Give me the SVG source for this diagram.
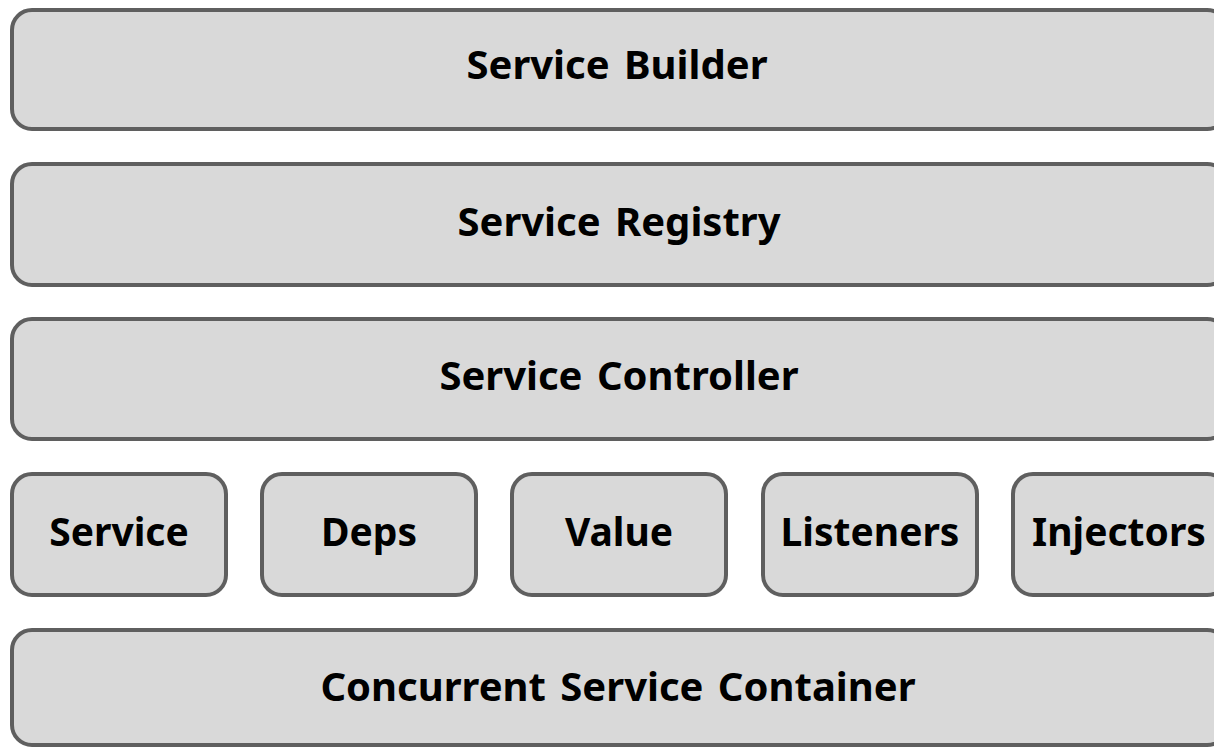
<svg xmlns="http://www.w3.org/2000/svg" width="1214" height="749" viewBox="0 0 1214 749">
<style>
.box{fill:#d9d9d9;stroke:#5f5f5f;stroke-width:4}
.lbl{font-family:"Noto Sans","Open Sans","DejaVu Sans",sans-serif;font-weight:bold;font-size:40px;fill:#000;text-anchor:middle;word-spacing:4px}
.sm{font-size:39px}
</style>
<rect width="1214" height="749" fill="#fff"/>
<g id="service-builder"><rect class="box" x="12" y="10" width="1215" height="119" rx="20"/><text class="lbl" x="617" y="79">Service Builder</text></g>
<g id="service-registry"><rect class="box" x="12" y="164" width="1215" height="121" rx="20"/><text class="lbl" x="619" y="236">Service Registry</text></g>
<g id="service-controller"><rect class="box" x="12" y="319" width="1215" height="120" rx="20"/><text class="lbl" x="619" y="390">Service Controller</text></g>
<g id="service"><rect class="box" x="12" y="474" width="214" height="121" rx="20"/><text class="lbl sm" x="119" y="546">Service</text></g>
<g id="deps"><rect class="box" x="262" y="474" width="214" height="121" rx="20"/><text class="lbl sm" x="369" y="546">Deps</text></g>
<g id="value"><rect class="box" x="512" y="474" width="214" height="121" rx="20"/><text class="lbl sm" x="619" y="546">Value</text></g>
<g id="listeners"><rect class="box" x="763" y="474" width="214" height="121" rx="20"/><text class="lbl sm" x="870" y="546">Listeners</text></g>
<g id="injectors"><rect class="box" x="1013" y="474" width="214" height="121" rx="20"/><text class="lbl sm" x="1119" y="546">Injectors</text></g>
<g id="concurrent-service-container"><rect class="box" x="12" y="630" width="1215" height="115" rx="20"/><text class="lbl" x="618" y="701">Concurrent Service Container</text></g>
<g id="connectors"></g>
</svg>
